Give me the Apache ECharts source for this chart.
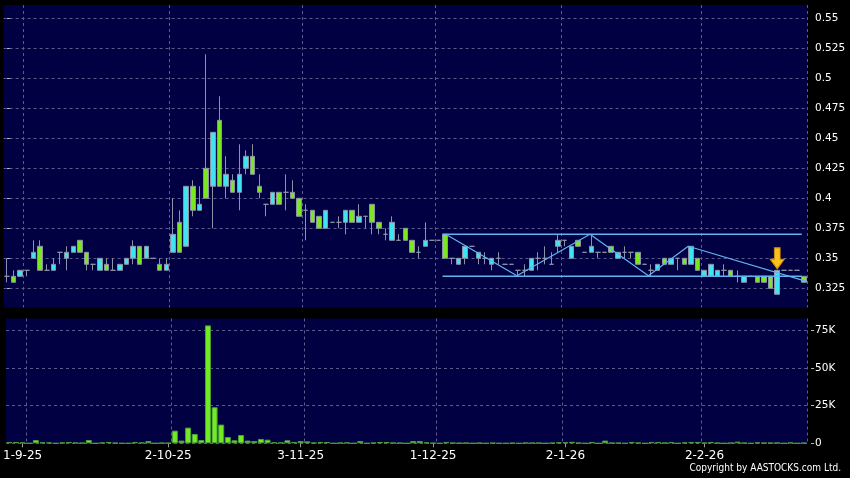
<!DOCTYPE html>
<html><head><meta charset="utf-8">
<script src="https://cdn.jsdelivr.net/npm/echarts@6/dist/echarts.min.js"></script>
<style>html,body{margin:0;padding:0;background:#000;}#c{width:850px;height:478px;}</style>
</head><body><div id="c"></div>
<script>
// ---- data ----
const tickLabels = ['1-9-25','2-10-25','3-11-25','1-12-25','2-1-26','2-2-26'];
const tickIndex  = [2, 24, 44, 64, 84, 105];
const gridIndex  = [3, 25, 45, 65, 84, 105];
const opens  = [0.335,0.335,0.335,0.34,0.35,0.36,0.34,0.34,0.355,0.35,0.355,0.365,0.355,0.345,0.34,0.345,0.34,0.34,0.345,0.35,0.36,0.35,0.35,0.345,0.34,
  0.355,0.38,0.36,0.41,0.39,0.425,0.41,0.465,0.41,0.415,0.405,0.425,0.435,0.41,0.395,0.395,0.405,0.405,0.405,0.40,0.39,0.39,0.385,0.375,0.38,
  0.38,0.38,0.39,0.38,0.385,0.395,0.38,0.37,0.365,0.365,0.375,0.365,0.355,0.36,0.365,0.365,0.37,0.35,0.345,0.35,0.36,0.35,0.35,0.345,0.35,
  0.345,0.345,0.34,0.34,0.34,0.35,0.35,0.345,0.36,0.365,0.35,0.365,0.355,0.355,0.355,0.355,0.36,0.35,0.355,0.355,0.355,0.345,0.34,0.34,0.35,
  0.345,0.35,0.35,0.345,0.35,0.335,0.335,0.335,0.34,0.34,0.335,0.33,0.335,0.335,0.335,0.335,0.32,0.34,0.34,0.34,0.335];
const closes = [0.335,0.33,0.34,0.34,0.355,0.34,0.34,0.345,0.355,0.355,0.36,0.355,0.345,0.345,0.35,0.34,0.34,0.345,0.35,0.36,0.345,0.36,0.35,0.34,0.345,
  0.37,0.355,0.41,0.39,0.395,0.40,0.455,0.41,0.42,0.405,0.42,0.435,0.42,0.405,0.395,0.405,0.395,0.405,0.40,0.385,0.39,0.38,0.375,0.39,0.38,
  0.38,0.39,0.38,0.385,0.385,0.38,0.375,0.37,0.38,0.365,0.365,0.355,0.355,0.365,0.365,0.365,0.35,0.35,0.35,0.36,0.36,0.355,0.35,0.35,0.35,
  0.345,0.345,0.34,0.34,0.35,0.35,0.35,0.345,0.365,0.365,0.36,0.36,0.355,0.36,0.355,0.355,0.355,0.355,0.355,0.355,0.345,0.345,0.34,0.345,0.345,
  0.35,0.35,0.345,0.36,0.34,0.34,0.345,0.34,0.34,0.335,0.335,0.335,0.335,0.33,0.33,0.325,0.34,0.34,0.34,0.34,0.33];
const lows   = [0.33,0.33,0.335,0.335,0.35,0.34,0.34,0.34,0.345,0.34,0.355,0.355,0.34,0.34,0.34,0.34,0.34,0.34,0.345,0.345,0.345,0.35,0.35,0.34,0.34,
  0.355,0.355,0.36,0.385,0.39,0.40,0.375,0.41,0.40,0.405,0.39,0.42,0.42,0.40,0.385,0.395,0.395,0.39,0.40,0.385,0.365,0.38,0.375,0.375,0.38,
  0.375,0.37,0.38,0.38,0.375,0.37,0.37,0.365,0.365,0.365,0.365,0.355,0.35,0.36,0.365,0.365,0.35,0.345,0.345,0.345,0.36,0.345,0.345,0.34,0.345,
  0.345,0.345,0.335,0.335,0.34,0.34,0.345,0.345,0.355,0.36,0.35,0.36,0.355,0.355,0.35,0.355,0.355,0.35,0.35,0.35,0.345,0.345,0.335,0.34,0.345,
  0.345,0.34,0.345,0.345,0.34,0.335,0.335,0.335,0.335,0.335,0.33,0.33,0.335,0.33,0.33,0.325,0.32,0.34,0.34,0.34,0.33];
const highs  = [0.35,0.34,0.34,0.34,0.365,0.365,0.345,0.35,0.355,0.36,0.36,0.365,0.355,0.345,0.35,0.35,0.35,0.345,0.35,0.365,0.36,0.36,0.35,0.35,0.35,
  0.40,0.39,0.41,0.415,0.41,0.52,0.455,0.485,0.435,0.42,0.445,0.44,0.445,0.42,0.395,0.405,0.405,0.42,0.415,0.40,0.395,0.39,0.385,0.39,0.38,
  0.385,0.39,0.39,0.395,0.385,0.395,0.38,0.375,0.385,0.37,0.375,0.365,0.36,0.38,0.365,0.365,0.37,0.35,0.35,0.36,0.36,0.355,0.355,0.35,0.355,
  0.345,0.345,0.34,0.345,0.35,0.355,0.36,0.355,0.37,0.365,0.36,0.365,0.355,0.37,0.355,0.355,0.36,0.355,0.36,0.355,0.355,0.345,0.345,0.345,0.35,
  0.35,0.35,0.35,0.36,0.35,0.34,0.345,0.34,0.345,0.34,0.34,0.335,0.335,0.335,0.335,0.335,0.34,0.34,0.34,0.34,0.335];
const volumes = [900,900,600,0,2200,600,500,0,500,900,500,300,2200,0,500,900,300,0,0,900,500,1500,0,300,200,
  8400,1800,10400,6200,2200,78200,23900,12400,4200,2000,5500,1800,1500,2900,2400,700,600,2000,900,1500,1300,400,900,900,0,
  400,600,0,1500,0,400,900,900,400,300,0,1500,1500,600,200,0,900,300,200,300,0,300,0,300,0,
  0,200,0,400,300,300,0,300,600,700,1000,300,0,900,0,1800,300,300,0,900,400,0,900,900,400,
  900,0,600,900,900,300,900,300,0,300,1100,300,0,600,300,300,400,0,600,0,300];
const priceTicks  = [0.325,0.35,0.375,0.4,0.425,0.45,0.475,0.5,0.525,0.55];
const volumeTicks = [0,25000,50000,75000];
const upperChannel = [[65.6,0.37],[119.7,0.37]];
const lowerChannel = [[65.6,0.335],[119.7,0.335]];
const zigzagLine   = [[66.4,0.369],[76.8,0.3355],[87.8,0.37],[96.6,0.3355],[102.6,0.36],[120.5,0.3305]];
const arrowPoint   = [116, 0.34];

// ---- chart ----
const categories = opens.map((_, i) => String(i));
const labelOf = {}; tickIndex.forEach((k, j) => labelOf[k] = tickLabels[j]);
const candles = opens.map((o, i) => [o, closes[i], lows[i], highs[i]]);
const isLabel = (i) => tickIndex.indexOf(i) >= 0;
const isGrid  = (i) => gridIndex.indexOf(i) >= 0;
const FONT = 'DejaVu Sans';
const gridLine = { show: true, lineStyle: { color: '#5b5b8e', type: [3, 3], width: 1 } };
const chart = echarts.init(document.getElementById('c'), null, { renderer: 'canvas' });
chart.setOption({
  animation: false,
  backgroundColor: '#000000',
  title: { text: 'Copyright by AASTOCKS.com Ltd.', right: 4, bottom: 0,
    textStyle: { color: '#ffffff', fontSize: 10, fontWeight: 'normal', fontFamily: "'DejaVu Sans Condensed', 'DejaVu Sans'" } },
  grid: [
    { left: 3.6, right: 42.9, top: 5, height: 302.5, show: true, backgroundColor: '#000042', borderWidth: 0 },
    { left: 3.6, right: 42.9, top: 318.5, height: 124.8, show: true, backgroundColor: '#000042', borderWidth: 0 }
  ],
  xAxis: [
    { type: 'category', gridIndex: 0, data: categories, boundaryGap: true,
      axisLine: { show: false }, axisTick: { show: false }, axisLabel: { show: false },
      splitLine: Object.assign({ interval: (i) => isGrid(i) }, gridLine) },
    { type: 'category', gridIndex: 1, data: categories, boundaryGap: true,
      axisLine: { show: false },
      axisTick: { show: true, alignWithLabel: true, interval: (i) => isLabel(i), length: 4, lineStyle: { color: '#9a9a9a' } },
      axisLabel: { show: true, interval: (i) => isLabel(i), formatter: (v, i) => labelOf[i] || '', color: '#ffffff', fontSize: 12, fontFamily: FONT, margin: 7 },
      splitLine: Object.assign({ interval: (i) => isGrid(i) }, gridLine) },
    { type: 'value', gridIndex: 0, min: -0.5, max: 120.5, show: false }
  ],
  yAxis: [
    { type: 'value', gridIndex: 0, position: 'right', min: 0.309, max: 0.56108, offset: 4,
      axisLine: { show: false },
      axisTick: { show: true, length: 3, customValues: priceTicks, lineStyle: { color: '#bbbbbb' } },
      axisLabel: { show: true, customValues: priceTicks, formatter: (v) => String(+v.toFixed(3)), color: '#ffffff', fontSize: 10.5, fontFamily: FONT, margin: 4 },
      splitLine: gridLine },
    { type: 'value', gridIndex: 1, position: 'right', min: 0, max: 82760, offset: 4,
      axisLine: { show: false },
      axisTick: { show: true, length: 3, customValues: volumeTicks, lineStyle: { color: '#bbbbbb' } },
      axisLabel: { show: true, customValues: volumeTicks, formatter: (v) => v === 0 ? '0' : (v / 1000) + 'K', color: '#ffffff', fontSize: 10.5, fontFamily: FONT, margin: 4 },
      splitLine: gridLine }
  ],
  series: [
    { type: 'candlestick', xAxisIndex: 0, yAxisIndex: 0, data: candles, barWidth: 5,
      itemStyle: { color: '#3fe3f2', color0: '#7ae81e', borderColor: '#8d93a6', borderColor0: '#8d93a6', borderWidth: 1 },
      markPoint: { silent: true, symbol: 'path://M4.3,0 L10.4,0 L10.4,11.3 L14.7,11.3 L7.35,20.7 L0,11.3 L4.3,11.3 Z',
        symbolSize: [14, 21], symbolOffset: [0, -12], symbolKeepAspect: false,
        itemStyle: { color: '#f7c21c', borderColor: '#d88a00', borderWidth: 1 }, label: { show: false },
        data: [{ coord: arrowPoint }] } },
    { type: 'line', xAxisIndex: 2, yAxisIndex: 0, data: upperChannel, symbol: 'none', silent: true, lineStyle: { color: '#62b2ee', width: 1.5 } },
    { type: 'line', xAxisIndex: 2, yAxisIndex: 0, data: lowerChannel, symbol: 'none', silent: true, lineStyle: { color: '#62b2ee', width: 1.5 } },
    { type: 'line', xAxisIndex: 2, yAxisIndex: 0, data: zigzagLine, symbol: 'none', silent: true, lineStyle: { color: '#62b2ee', width: 1.2 } },
    { type: 'bar', xAxisIndex: 1, yAxisIndex: 1, data: volumes, barWidth: 6,
      itemStyle: { color: '#70ec20', borderColor: '#4e9c3a', borderWidth: 1 } }
  ]
});
</script></body></html>
